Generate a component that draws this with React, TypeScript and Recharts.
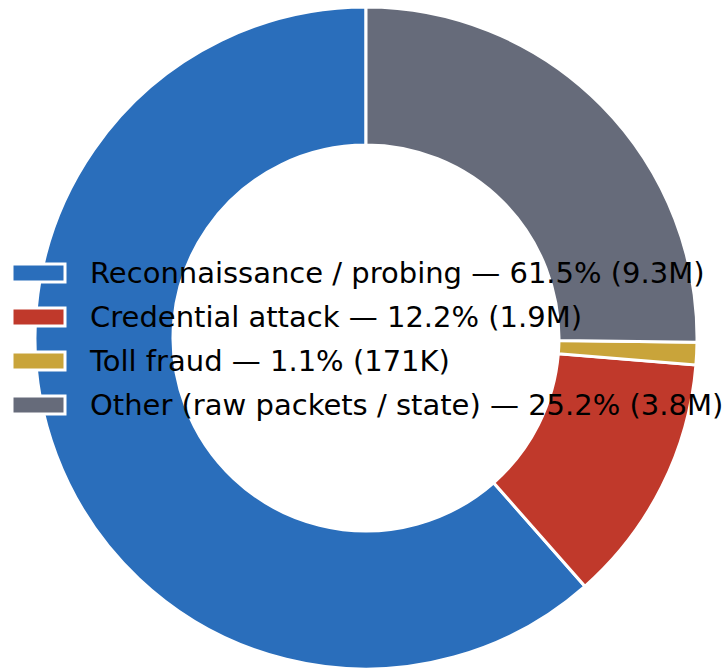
import React from 'react';
import { PieChart, Pie, Cell, Legend } from 'recharts';

const categories = [
  'Reconnaissance / probing',
  'Credential attack',
  'Toll fraud',
  'Other (raw packets / state)',
];
const shares = [61.5, 12.2, 1.1, 25.2];
const counts = ['9.3M', '1.9M', '171K', '3.8M'];
const colors = ['#2A6EBB', '#C0392B', '#C9A43A', '#666B7A'];

const data = categories.map((name, i) => ({
  name,
  value: shares[i],
  label: `${name} — ${shares[i].toFixed(1)}% (${counts[i]})`,
  color: colors[i],
}));

const LegendContent = () => (
  <svg width={725} height={200} style={{ overflow: 'visible' }}>
    {data.map((d, i) => {
      const cy = 20 + i * 44;
      return (
        <g key={d.name}>
          <rect x={12} y={cy - 9} width={53} height={18} fill={d.color} stroke="#fff" strokeWidth={3} />
          <text
            x={90}
            y={cy}
            dominantBaseline="central"
            fontFamily="DejaVu Sans"
            fontSize={29}
            fill="#000"
          >
            {d.label}
          </text>
        </g>
      );
    })}
  </svg>
);

export default function App() {
  return (
    <div style={{ position: 'absolute', left: 0, top: 0, width: 725, height: 670, background: '#fff' }}>
      <PieChart width={725} height={670} margin={{ top: 0, right: 0, bottom: 0, left: 0 }}>
        <Pie
          data={data}
          dataKey="value"
          cx={366}
          cy={338}
          outerRadius={331}
          innerRadius={193}
          startAngle={90}
          endAngle={450}
          stroke="#fff"
          strokeWidth={3}
          isAnimationActive={false}
        >
          {data.map((d) => (
            <Cell key={d.name} fill={d.color} />
          ))}
        </Pie>
        <Legend
          content={<LegendContent />}
          wrapperStyle={{ position: 'absolute', left: 0, top: 253, width: 725, height: 200 }}
        />
      </PieChart>
    </div>
  );
}
